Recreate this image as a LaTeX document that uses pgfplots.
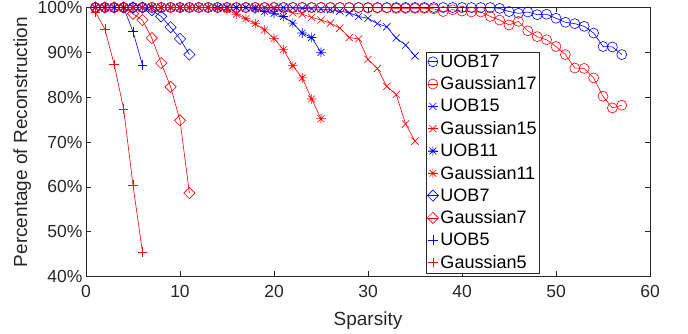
\documentclass[border=0pt]{standalone}
\usepackage{pgfplots}
\pgfplotsset{compat=1.18}
\usepackage{fontspec}
\setmainfont{Liberation Sans}
\definecolor{axc}{RGB}{38,38,38}
\definecolor{mblue}{RGB}{0,0,255}
\definecolor{mred}{RGB}{255,0,0}
\pgfdeclareplotmark{mast}{%
 \pgfpathmoveto{\pgfqpoint{-\pgfplotmarksize}{0pt}}\pgfpathlineto{\pgfqpoint{\pgfplotmarksize}{0pt}}%
 \pgfpathmoveto{\pgfqpoint{0pt}{-\pgfplotmarksize}}\pgfpathlineto{\pgfqpoint{0pt}{\pgfplotmarksize}}%
 \pgfpathmoveto{\pgfqpoint{-.7071\pgfplotmarksize}{-.7071\pgfplotmarksize}}\pgfpathlineto{\pgfqpoint{.7071\pgfplotmarksize}{.7071\pgfplotmarksize}}%
 \pgfpathmoveto{\pgfqpoint{-.7071\pgfplotmarksize}{.7071\pgfplotmarksize}}\pgfpathlineto{\pgfqpoint{.7071\pgfplotmarksize}{-.7071\pgfplotmarksize}}%
 \pgfusepathqstroke}
\pgfdeclareplotmark{mx}{%
 \pgfpathmoveto{\pgfqpoint{-\pgfplotmarksize}{-\pgfplotmarksize}}\pgfpathlineto{\pgfqpoint{\pgfplotmarksize}{\pgfplotmarksize}}%
 \pgfpathmoveto{\pgfqpoint{-\pgfplotmarksize}{\pgfplotmarksize}}\pgfpathlineto{\pgfqpoint{\pgfplotmarksize}{-\pgfplotmarksize}}%
 \pgfusepathqstroke}
\pgfdeclareplotmark{mdiam}{%
 \pgfpathmoveto{\pgfqpoint{0pt}{\pgfplotmarksize}}\pgfpathlineto{\pgfqpoint{\pgfplotmarksize}{0pt}}%
 \pgfpathlineto{\pgfqpoint{0pt}{-\pgfplotmarksize}}\pgfpathlineto{\pgfqpoint{-\pgfplotmarksize}{0pt}}\pgfpathclose
 \pgfusepathqstroke}
\begin{document}
\begin{tikzpicture}
\begin{axis}[
  scale only axis, width=564pt, height=269pt,
  xmin=0, xmax=60, ymin=40, ymax=100,
  xtick={0,10,...,60}, ytick={40,50,...,100},
  yticklabel={\pgfmathprintnumber{\tick}\%},
  /pgf/number format/assume math mode=true,
  tick align=inside, major tick length=5pt,
  axis line style={axc, line width=0.6pt},
  tick style={axc, line width=0.6pt},
  ticklabel style={font=\fontsize{17.5}{20}\selectfont, text=axc},
  xticklabel style={yshift=-5pt},
  label style={font=\fontsize{19}{22}\selectfont, text=axc},
  xlabel={Sparsity}, ylabel={Percentage of Reconstruction},
  xlabel style={at={(axis description cs:0.5,-0.165)}, anchor=center},
  ylabel style={at={(axis description cs:-0.113,0.5)}, anchor=center},
  clip=false,
  every axis plot/.append style={line width=0.6pt},
  legend style={at={(rel axis cs:0.603,0.013)}, anchor=south west, draw=axc, fill=white,
    font=\fontsize{18}{21}\selectfont, inner sep=1pt, row sep=4pt, cells={anchor=west}},
  legend image code/.code={\draw[mark repeat=2,mark phase=2,#1] plot coordinates {(0pt,0pt) (5pt,0pt) (10pt,0pt)};},
]
% UOB17
\addplot[mblue, mark=o, mark size=5pt] coordinates {
(1,100)(2,100)(3,100)(4,100)(5,100)(6,100)(7,100)(8,100)(9,100)(10,100)
(11,100)(12,100)(13,100)(14,100)(15,100)(16,100)(17,100)(18,100)(19,100)(20,100)
(21,100)(22,100)(23,100)(24,100)(25,100)(26,100)(27,100)(28,100)(29,100)(30,100)
(31,100)(32,100)(33,100)(34,100)(35,100)(36,100)(37,100)(38,100)(39,100)(40,100)
(41,100)(42,100)(43,100)(44,99.8)(45,99.1)(46,98.7)(47,99.0)(48,98.4)(49,98.5)(50,97.6)
(51,96.7)(52,96.4)(53,95.8)(54,94.3)(55,91.3)(56,91.2)(57,89.5)};
\addlegendentry{UOB17}
% Gaussian17
\addplot[mred, mark=o, mark size=5pt] coordinates {
(1,100)(2,100)(3,100)(4,100)(5,100)(6,100)(7,100)(8,100)(9,100)(10,100)
(11,100)(12,100)(13,100)(14,100)(15,100)(16,100)(17,100)(18,100)(19,100)(20,100)
(21,100)(22,100)(23,100)(24,100)(25,100)(26,100)(27,100)(28,100)(29,100)(30,99.9)
(31,99.9)(32,99.9)(33,99.8)(34,99.8)(35,99.8)(36,99.8)(37,99.7)(38,99.1)(39,99.5)(40,99.2)
(41,99.0)(42,99.0)(43,98.0)(44,97.2)(45,96.1)(46,96.9)(47,94.8)(48,93.5)(49,92.8)(50,91.3)
(51,89.5)(52,86.5)(53,86.4)(54,84.3)(55,80.2)(56,77.6)(57,78.2)};
\addlegendentry{Gaussian17}
% UOB15
\addplot[mblue, mark=mx, mark size=3.6pt] coordinates {
(1,100)(2,100)(3,100)(4,100)(5,100)(6,100)(7,100)(8,100)(9,100)(10,100)
(11,100)(12,100)(13,100)(14,100)(15,100)(16,100)(17,100)(18,100)(19,100)(20,100)
(21,100)(22,99.9)(23,99.8)(24,99.7)(25,99.6)(26,99.5)(27,99.2)(28,98.8)(29,98.0)(30,97.6)
(31,96.4)(32,95.7)(33,93.2)(34,91.6)(35,89.2)};
\addlegendentry{UOB15}
% Gaussian15
\addplot[mred, mark=mx, mark size=3.6pt] coordinates {
(1,100)(2,100)(3,100)(4,100)(5,100)(6,100)(7,100)(8,100)(9,100)(10,100)
(11,100)(12,100)(13,100)(14,100)(15,100)(16,100)(17,100)(18,100)(19,100)(20,99.8)
(21,99.3)(22,98.8)(23,98.5)(24,97.8)(25,97.2)(26,96.5)(27,95.4)(28,93.3)(29,93.0)(30,88.4)
(31,86.4)(32,82.4)(33,80.6)(34,74.0)(35,70.2)};
\addlegendentry{Gaussian15}
% UOB11
\addplot[mblue, mark=mast, mark size=4.8pt] coordinates {
(1,100)(2,100)(3,100)(4,100)(5,100)(6,100)(7,100)(8,100)(9,100)(10,100)
(11,100)(12,100)(13,100)(14,100)(15,100)(16,100)(17,100)(18,99.7)(19,99.1)(20,98.7)
(21,98.0)(22,96.5)(23,94.3)(24,93.3)(25,90.0)};
\addlegendentry{UOB11}
% Gaussian11
\addplot[mred, mark=mast, mark size=4.8pt] coordinates {
(1,100)(2,100)(3,100)(4,100)(5,100)(6,100)(7,100)(8,100)(9,100)(10,100)
(11,100)(12,100)(13,100)(14,99.8)(15,99.5)(16,98.5)(17,97.5)(18,96.4)(19,95.0)(20,93.1)
(21,90.6)(22,87.0)(23,84.3)(24,79.6)(25,75.2)};
\addlegendentry{Gaussian11}
% UOB7
\addplot[mblue, mark=mdiam, mark size=5.6pt] coordinates {
(1,100)(2,100)(3,100)(4,100)(5,100)(6,100)(7,99.4)(8,98.0)(9,95.6)(10,93.0)(11,89.5)};
\addlegendentry{UOB7}
% Gaussian7
\addplot[mred, mark=mdiam, mark size=5.6pt] coordinates {
(1,100)(2,100)(3,100)(4,100)(5,98.6)(6,97.2)(7,93.2)(8,87.6)(9,82.3)(10,74.8)(11,58.6)};
\addlegendentry{Gaussian7}
% UOB5
\addplot[mblue, mark=+, mark size=4.8pt] coordinates {
(1,100)(2,100)(3,100)(4,100)(5,94.6)(6,87.2)};
\addlegendentry{UOB5}
% Gaussian5
\addplot[mred, mark=+, mark size=4.8pt] coordinates {
(1,99.0)(2,95.2)(3,87.3)(4,77.4)(5,60.4)(6,45.5)};
\addlegendentry{Gaussian5}
\end{axis}
\pgfresetboundingbox
\path[use as bounding box] ([xshift=-86pt,yshift=-57.5pt]current axis.south west) rectangle ([xshift=38pt,yshift=7.5pt]current axis.north east);
\end{tikzpicture}
\end{document}
